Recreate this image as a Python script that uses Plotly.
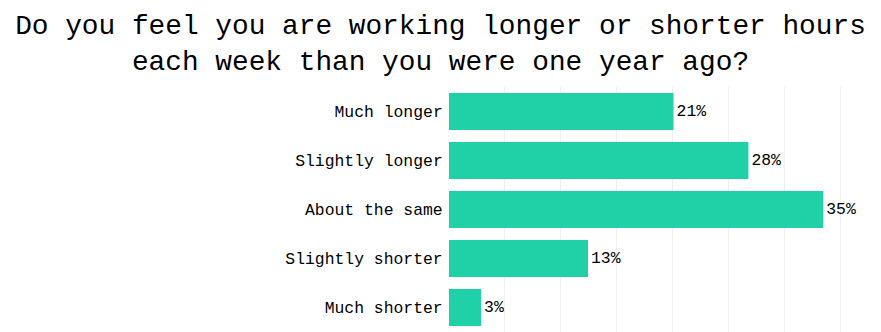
import plotly.graph_objects as go

categories = ["Much longer", "Slightly longer", "About the same", "Slightly shorter", "Much shorter"]
values = [21, 28, 35, 13, 3]
labels = ["21%", "28%", "35%", "13%", "3%"]

title = "Do you feel you are working longer or shorter hours<br>each week than you were one year ago?"
font_family = "Liberation Mono, DejaVu Sans Mono, monospace"

fig = go.Figure(go.Bar(
    x=values, y=categories, orientation="h",
    marker=dict(color="#20d1a8", line=dict(width=0)),
    text=labels, textposition="outside", cliponaxis=False,
    textfont=dict(family=font_family, size=16.4, color="#000000"),
    width=0.755,
))

fig.update_layout(
    width=881, height=332,
    margin=dict(l=449, r=0, t=87, b=0),
    paper_bgcolor="white", plot_bgcolor="white",
    title=dict(text=title, x=0.5, xanchor="center", y=0.897, yanchor="top",
               font=dict(family=font_family, size=27.8, color="#000000")),
    showlegend=False,
    font=dict(family=font_family, size=16.4, color="#000000"),
)
fig.update_xaxes(range=[0, 40.4], tick0=0, dtick=5.234, showgrid=True,
                 gridcolor="#f0f0f0", gridwidth=1, showticklabels=False,
                 zeroline=False, showline=False)
fig.update_yaxes(categoryorder="array", categoryarray=categories[::-1],
                 showgrid=False, zeroline=False, showline=False,
                 ticks="outside", ticklen=2, tickcolor="rgba(0,0,0,0)",
                 tickfont=dict(family=font_family, size=16.4, color="#000000"))

fig.write_html("out.html")
